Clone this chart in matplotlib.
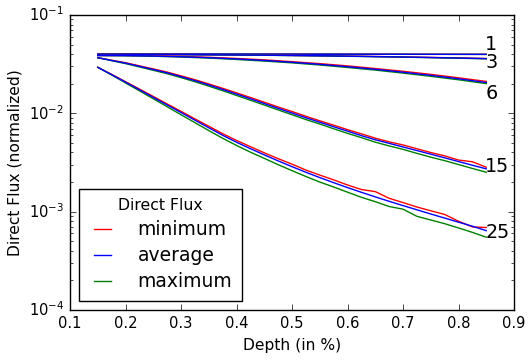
import matplotlib as mpl
mpl.use('Agg')
import matplotlib.pyplot as plt

plt.style.use('classic')

# depth grids (fraction)
depth_coarse = [0.15, 0.20, 0.25, 0.30, 0.35, 0.40, 0.45, 0.50,
                0.55, 0.60, 0.65, 0.70, 0.75, 0.80, 0.85]
depth_fine = [0.150, 0.175, 0.200, 0.225, 0.250, 0.275, 0.300, 0.325,
              0.350, 0.375, 0.400, 0.425, 0.450, 0.475, 0.500, 0.525,
              0.550, 0.575, 0.600, 0.625, 0.650, 0.675, 0.700, 0.725,
              0.750, 0.775, 0.800, 0.825, 0.850]

# curve "1"
min1 = [0.04005, 0.04005, 0.04004, 0.04004, 0.04002, 0.04001, 0.04000, 0.03998,
        0.03996, 0.03995, 0.03993, 0.03990, 0.03988, 0.03985, 0.03982]
avg1 = [0.04005, 0.04004, 0.04003, 0.04002, 0.04000, 0.03999, 0.03997, 0.03995,
        0.03993, 0.03991, 0.03989, 0.03986, 0.03983, 0.03980, 0.03977]
max1 = [0.04005, 0.04003, 0.04002, 0.04000, 0.03998, 0.03996, 0.03994, 0.03992,
        0.03990, 0.03987, 0.03985, 0.03982, 0.03978, 0.03975, 0.03972]

# curve "3"
min3 = [0.03970, 0.03969, 0.03964, 0.03955, 0.03943, 0.03925, 0.03905, 0.03881,
        0.03853, 0.03821, 0.03786, 0.03747, 0.03705, 0.03660, 0.03612]
avg3 = [0.03970, 0.03968, 0.03962, 0.03952, 0.03939, 0.03920, 0.03899, 0.03874,
        0.03845, 0.03812, 0.03776, 0.03736, 0.03693, 0.03647, 0.03598]
max3 = [0.03970, 0.03967, 0.03960, 0.03949, 0.03935, 0.03915, 0.03893, 0.03867,
        0.03837, 0.03803, 0.03766, 0.03725, 0.03681, 0.03634, 0.03584]

# curve "6"
min6 = [0.03873, 0.03870, 0.03842, 0.03790, 0.03714, 0.03615, 0.03497, 0.03353,
        0.03202, 0.03037, 0.02856, 0.02676, 0.02491, 0.02298, 0.02111]
avg6 = [0.03873, 0.03861, 0.03824, 0.03763, 0.03679, 0.03573, 0.03448, 0.03306,
        0.03150, 0.02981, 0.02803, 0.02620, 0.02433, 0.02245, 0.02057]
max6 = [0.03873, 0.03852, 0.03806, 0.03737, 0.03645, 0.03531, 0.03400, 0.03260,
        0.03099, 0.02926, 0.02751, 0.02565, 0.02377, 0.02193, 0.02005]

# curve "15"
min15 = [0.03679, 0.03468, 0.03272, 0.03041, 0.02829, 0.02625, 0.02407, 0.02197,
         0.01991, 0.01796, 0.01616, 0.01450, 0.01297, 0.01161, 0.01043, 0.009343,
         0.008391, 0.007585, 0.006827, 0.006185, 0.005594, 0.005130, 0.004770,
         0.004364, 0.003993, 0.003696, 0.003350, 0.003218, 0.002830]
avg15 = [0.03679, 0.03452, 0.03241, 0.03006, 0.02790, 0.02582, 0.02362, 0.02151,
         0.01945, 0.01750, 0.01571, 0.01407, 0.01258, 0.01124, 0.01007, 0.009020,
         0.008120, 0.007306, 0.006591, 0.005930, 0.005388, 0.004953, 0.004552,
         0.004184, 0.003846, 0.003527, 0.003234, 0.002965, 0.002726]
max15 = [0.03679, 0.03428, 0.03203, 0.02964, 0.02738, 0.02528, 0.02307, 0.02096,
         0.01891, 0.01698, 0.01520, 0.01358, 0.01215, 0.01083, 0.009677, 0.008648,
         0.007785, 0.006972, 0.006260, 0.005659, 0.005093, 0.004660, 0.004303,
         0.003918, 0.003585, 0.003303, 0.003015, 0.002751, 0.002517]

# curve "25"
min25 = [0.02938, 0.02492, 0.02100, 0.01767, 0.01485, 0.01246, 0.01048, 0.008789,
         0.007391, 0.006214, 0.005301, 0.004584, 0.003964, 0.003460, 0.003042,
         0.002649, 0.002356, 0.002106, 0.001868, 0.001680, 0.001600, 0.001368,
         0.001237, 0.001116, 0.001021, 0.000937, 0.000800, 0.000700, 0.000690]
avg25 = [0.02938, 0.02475, 0.02076, 0.01738, 0.01454, 0.01217, 0.01019, 0.008525,
         0.007136, 0.005985, 0.005082, 0.004374, 0.003783, 0.003286, 0.002869,
         0.002516, 0.002222, 0.001972, 0.001758, 0.001574, 0.001414, 0.001275,
         0.001153, 0.001045, 0.000947, 0.000861, 0.000782, 0.000712, 0.000641]
max25 = [0.02938, 0.02452, 0.02037, 0.01694, 0.01407, 0.01167, 0.009678, 0.008040,
         0.006683, 0.005579, 0.004715, 0.004030, 0.003485, 0.003006, 0.002612,
         0.002280, 0.002000, 0.001783, 0.001578, 0.001400, 0.001264, 0.001129,
         0.001060, 0.000897, 0.000823, 0.000755, 0.000683, 0.000616, 0.000550]

# end labels ("1" and "3" sit right on top of each other, so one two-line text;
# the y value is the baseline of its last line)
end_labels = ['1\n3', '6', '15', '25']
end_label_y = [0.02870, 0.01398, 0.002528, 0.000539]

curves = [
    (depth_coarse, min1, avg1, max1),
    (depth_coarse, min3, avg3, max3),
    (depth_coarse, min6, avg6, max6),
    (depth_fine, min15, avg15, max15),
    (depth_fine, min25, avg25, max25),
]

fig = plt.figure(figsize=(5.28, 3.62), facecolor='white')
ax = fig.add_axes([0.1326, 0.1436, 0.8409, 0.815])

for i, (d, lo, mid, hi) in enumerate(curves):
    ax.plot(d, lo, color='r', lw=1.0, label='minimum' if i == 0 else None)
    ax.plot(d, hi, color='g', lw=1.0, label='maximum' if i == 0 else None)
    ax.plot(d, mid, color='b', lw=1.0, label='average' if i == 0 else None)

for txt, yv in zip(end_labels, end_label_y):
    ax.text(0.848, yv, txt, fontsize=13.8, ha='left', va='baseline',
            linespacing=0.93)

ax.set_yscale('log')
ax.set_xlim(0.1, 0.9)
ax.set_ylim(1e-4, 1e-1)
ax.set_xticks([0.1, 0.2, 0.3, 0.4, 0.5, 0.6, 0.7, 0.8, 0.9])
ax.tick_params(labelsize=10.6)
ax.set_xlabel('Depth (in %)', fontsize=11.2)
ax.set_ylabel('Direct Flux (normalized)', fontsize=11.2)

handles, labels = ax.get_legend_handles_labels()
order = [labels.index('minimum'), labels.index('average'), labels.index('maximum')]
leg = ax.legend([handles[k] for k in order], [labels[k] for k in order],
                loc='lower left', title='Direct Flux', fontsize=13.5,
                handlelength=1.5, handletextpad=1.1, labelspacing=0.37,
                borderpad=0.5, numpoints=2)
leg.get_title().set_fontsize(11.3)

fig.savefig('out.png', dpi=100, facecolor='white')
